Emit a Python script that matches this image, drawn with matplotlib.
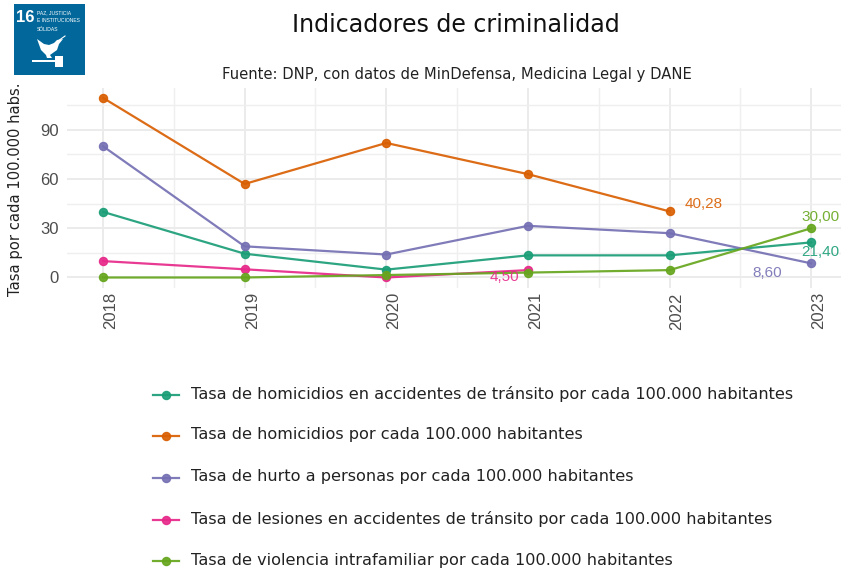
import matplotlib.pyplot as plt
from matplotlib.lines import Line2D
from matplotlib.patches import Rectangle, Polygon

W, H = 841, 572

years = [2018, 2019, 2020, 2021, 2022, 2023]
transito = [40, 14.5, 4.8, 13.5, 13.5, 21.4]
homicidios = [109.5, 57, 82, 63, 40.28, None]
hurto = [80, 19, 14, 31.5, 27, 8.6]
lesiones = [10, 5, 0, 4.5, None, None]
violencia = [0, 0, 1.5, 3, 4.5, 30]

names = ['Tasa de homicidios en accidentes de tránsito por cada 100.000 habitantes',
         'Tasa de homicidios por cada 100.000 habitantes',
         'Tasa de hurto a personas por cada 100.000 habitantes',
         'Tasa de lesiones en accidentes de tránsito por cada 100.000 habitantes',
         'Tasa de violencia intrafamiliar por cada 100.000 habitantes']
colors = ['#1B9E77', '#D95F02', '#7570B3', '#E7298A', '#66A61E']
series = [transito, homicidios, hurto, lesiones, violencia]

# etiqueta, año, valor, desplazamiento en px
labels = [('21,40', 2023, 21.4, 9, -10, 0), ('40,28', 2022, 40.28, 34, 7, 1),
          ('8,60', 2023, 8.6, -44, -10, 2), ('4,50', 2021, 4.5, -24, -7, 3),
          ('30,00', 2023, 30, 9, 11, 4)]

fig = plt.figure(figsize=(W / 100, H / 100), dpi=100)


def fx(px):
    return px / W


def fy(px):
    return 1 - px / H


ax = fig.add_axes([fx(67), fy(288), fx(841) - fx(67), fy(88) - fy(288)])
ax.set_xlim(2017.746, 2023.21)
ax.set_ylim(-6.4, 115.5)

ax.set_xticks(years)
ax.set_xticks([y + 0.5 for y in years[:-1]], minor=True)
ax.set_yticks([0, 30, 60, 90])
ax.set_yticks([15, 45, 75, 105], minor=True)
ax.grid(True, which='major', color='#EBEBEB', lw=1.4)
ax.grid(True, which='minor', color='#EFEFEF', lw=1.0)
ax.set_axisbelow(True)
for s in ax.spines.values():
    s.set_visible(False)
ax.tick_params(which='both', length=0)
ax.tick_params(axis='x', pad=3)
ax.tick_params(axis='y', pad=6)
for t in ax.get_xticklabels():
    t.set_rotation(90)
    t.set_ha('left')
for t in ax.get_xticklabels() + ax.get_yticklabels():
    t.set_fontfamily('Liberation Sans')
    t.set_fontsize(12)
    t.set_color('#4D4D4D')

for vals, c in zip(series, colors):
    xs = [x for x, v in zip(years, vals) if v is not None]
    ys = [v for v in vals if v is not None]
    ax.plot(xs, ys, color=c, lw=1.6, marker='o', ms=5.8, alpha=0.92, clip_on=False)

for txt, x, y, dx, dy, i in labels:
    ax.annotate(txt, (x, y), xytext=(dx * 0.72, dy * 0.72), textcoords='offset points',
                color=colors[i], family='Liberation Sans', fontsize=11,
                ha='center', va='center', alpha=0.9, annotation_clip=False)

fig.text(fx(456), fy(25), 'Indicadores de criminalidad', fontsize=17.1, ha='center', va='center', color='#111111')
fig.text(fx(457), fy(74), 'Fuente: DNP, con datos de MinDefensa, Medicina Legal y DANE',
         fontsize=10.6, ha='center', va='center', color='#222222')
fig.text(fx(16), fy(189), 'Tasa por cada 100.000 habs.', rotation=90, fontsize=10.6,
         ha='center', va='center', color='#222222')

# leyenda
rows = [395, 436, 478, 520, 561]
for name, c, r in zip(names, colors, rows):
    fig.add_artist(Line2D([fx(153), fx(179)], [fy(r), fy(r)], color=c, lw=1.6, alpha=0.92))
    fig.add_artist(Line2D([fx(166)], [fy(r)], color=c, marker='o', ms=5.8, alpha=0.92))
    fig.text(fx(191), fy(r - 1), name, fontsize=11.6, va='center', color='#222222')

# logo ODS 16
blue = '#02689B'
fig.add_artist(Rectangle((fx(14), fy(75)), fx(71), fy(4) - fy(75), transform=fig.transFigure,
                         color=blue, lw=0))
fig.text(fx(25.5), fy(17), '16', color='white', fontsize=12, fontweight='bold',
         family='Liberation Sans', ha='center', va='center')
for t, r in zip(['PAZ, JUSTICIA', 'E INSTITUCIONES', 'SÓLIDAS'], [13, 21, 29.5]):
    fig.text(fx(37), fy(r), t, color='white', fontsize=3.6, family='Liberation Sans', va='center')
dove = [(37, 39), (44, 44), (49, 45), (54, 43), (57, 40), (63, 39), (59, 44), (57, 50),
        (50, 55), (52, 58), (47, 58), (46, 55), (41, 50)]
fig.add_artist(Polygon([(fx(a), fy(b)) for a, b in dove], transform=fig.transFigure, color='white', lw=0))
fig.add_artist(Line2D([fx(58), fx(65)], [fy(41), fy(36)], color='white', lw=0.8))
fig.add_artist(Rectangle((fx(32), fy(62)), fx(24), fy(60) - fy(62), transform=fig.transFigure, color='white', lw=0))
fig.add_artist(Rectangle((fx(55), fy(67)), fx(8), fy(56) - fy(67), transform=fig.transFigure, color='white', lw=0))

fig.savefig('out.png', dpi=100)
